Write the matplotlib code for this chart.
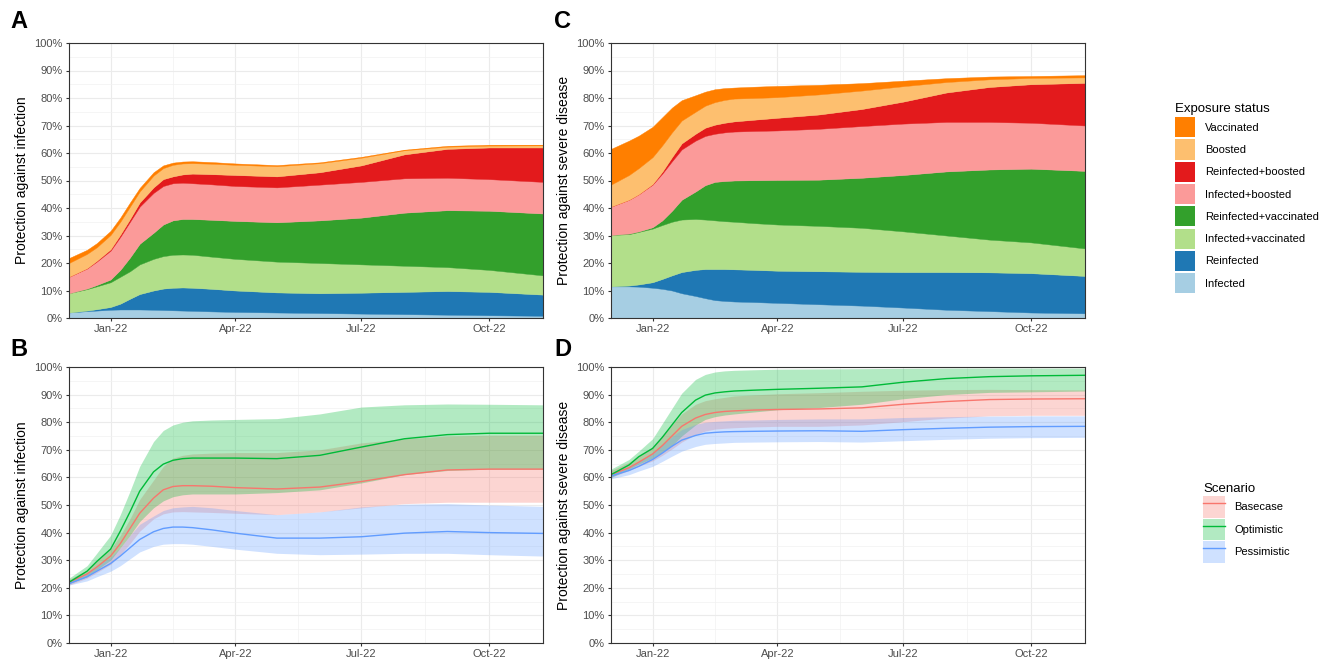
import numpy as np
import pandas as pd
import matplotlib
matplotlib.use('Agg')
import matplotlib.pyplot as plt
import matplotlib.dates as mdates
from matplotlib.patches import Patch
from matplotlib.lines import Line2D
from matplotlib.ticker import MultipleLocator, FixedLocator, FuncFormatter

plt.rcParams['font.family'] = ['Liberation Sans', 'DejaVu Sans']

# time points
dates = pd.to_datetime(['2021-12-02', '2021-12-15', '2021-12-22', '2022-01-01',
                        '2022-01-08', '2022-01-15', '2022-01-22', '2022-02-01',
                        '2022-02-08', '2022-02-15', '2022-02-22', '2022-03-01',
                        '2022-03-15', '2022-04-01', '2022-05-01', '2022-06-01',
                        '2022-07-01', '2022-08-01', '2022-09-01', '2022-10-01',
                        '2022-11-09'])

exposure = ['Infected', 'Reinfected', 'Infected+vaccinated', 'Reinfected+vaccinated',
            'Infected+boosted', 'Reinfected+boosted', 'Boosted', 'Vaccinated']
exposure_colors = ['#A6CEE3', '#1F78B4', '#B2DF8A', '#33A02C',
                   '#FB9A99', '#E31A1C', '#FDBF6F', '#FF7F00']

# A: protection against infection, contribution of each exposure status (%)
a_infected = [2, 2.5, 2.7, 3, 3.1, 3.1, 3.1, 3, 2.9, 2.8, 2.7, 2.6, 2.4, 2.2, 2, 1.8,
              1.6, 1.4, 1.2, 1, 0.8]
a_reinfected = [0, 0.2, 0.5, 1, 2.1, 3.9, 5.6, 7, 7.8, 8.2, 8.4, 8.4, 8.2, 7.8, 7.3,
                7.2, 7.6, 8.1, 8.6, 8.5, 7.7]
a_inf_vacc = [7, 7.8, 8.3, 9, 9.8, 10, 10.8, 11.5, 11.8, 12, 12, 12, 11.7, 11.5, 11.2,
              11, 10.3, 9.5, 8.7, 8, 7]
a_reinf_vacc = [0, 0.2, 0.5, 1, 2.5, 5, 7.5, 9.5, 11.5, 12.5, 12.9, 13, 13.4, 13.8,
                14.3, 15.5, 17, 19.3, 20.7, 21.5, 22.5]
a_inf_boost = [6, 7.3, 8.5, 10.5, 12, 13, 13.5, 14.5, 14, 13.5, 13.2, 13, 12.9, 12.7,
               12.7, 13, 13, 12.5, 11.8, 11.5, 11.5]
a_reinf_boost = [0, 0.1, 0.3, 0.5, 0.8, 1, 1.5, 2, 2.5, 2.5, 3, 3.5, 3.7, 4, 4, 4.5,
                 6, 8.7, 10.5, 11.5, 12.5]
a_boosted = [5, 5.2, 4.9, 5.2, 4.7, 4.5, 4, 4.3, 4, 4.2, 4, 3.8, 3.8, 3.7, 3.7, 3.3,
             2.8, 1.5, 0.8, 0.7, 0.8]
a_vaccinated = [1.8, 1.5, 1.5, 1.5, 1.5, 1.5, 1.3, 1.2, 1, 0.8, 0.7, 0.7, 0.6, 0.5,
                0.4, 0.3, 0.3, 0.2, 0.3, 0.3, 0.2]

# C: protection against severe disease, contribution of each exposure status (%)
c_infected = [11.5, 11.5, 11.4, 11, 10.6, 10, 9, 8, 7.2, 6.5, 6.2, 6, 5.8, 5.5, 5,
              4.5, 3.8, 3, 2.5, 2, 1.7]
c_reinfected = [0, 0.3, 0.8, 2, 3.6, 5.5, 7.7, 9.5, 10.6, 11.3, 11.6, 11.7, 11.7, 11.7,
                12, 12.3, 12.9, 13.7, 14.1, 14.3, 13.6]
c_inf_vacc = [18.7, 18.7, 19.1, 19.5, 19.6, 19.5, 19.1, 18.5, 18, 17.7, 17.4, 17.3, 17,
              16.8, 16.5, 16, 14.8, 13.3, 11.9, 11.2, 10]
c_reinf_vacc = [0, 0.2, 0.2, 0.5, 1.7, 4, 7.2, 10, 12.5, 14, 14.6, 15, 15.6, 16.2,
                16.8, 18.2, 20.5, 23.3, 25.5, 26.8, 28.2]
c_inf_boost = [10.3, 12.3, 13.5, 15.5, 17, 18, 18.3, 18.5, 17.9, 17.5, 17.7, 17.8,
               17.9, 18, 18.5, 18.8, 18.7, 18, 17.3, 16.7, 16.5]
c_reinf_boost = [0, 0, 0, 0.2, 0.7, 1.5, 2.2, 2.5, 3, 3.3, 3.5, 3.7, 4.1, 4.6, 5.2,
                 6.2, 8, 10.7, 12.7, 14, 15.5]
c_boosted = [8, 9, 9.5, 9.8, 9.6, 9, 8.3, 8, 8, 8.2, 8.3, 8.3, 7.9, 7.5, 7.3, 6.7,
             5.6, 3.8, 2.8, 2.3, 2]
c_vaccinated = [13, 12.5, 11.8, 11, 10.2, 9, 7.4, 6, 5.1, 4.7, 4.3, 4, 4.1, 4.1, 3.5,
                2.7, 2, 1.4, 1, 0.7, 0.8]

scenarios = ['Basecase', 'Optimistic', 'Pessimistic']
scenario_colors = ['#F8766D', '#00BA38', '#619CFF']

# B: protection against infection by scenario (%), median and interval
b_base = [22, 25, 27.5, 31.5, 36, 41.5, 47, 52.5, 55.5, 56.7, 57, 57, 56.8, 56.3,
          55.8, 56.5, 58.5, 61, 62.7, 63, 63]
b_base_lo = [21, 23.5, 25.5, 28.5, 32, 36, 40.5, 45, 46.8, 47.5, 47.6, 47.5, 47.3,
             47, 46.5, 47.5, 49, 50.5, 51, 51, 51]
b_base_hi = [23, 26.5, 29.5, 34, 39, 45, 52, 59, 64, 67, 68, 68.5, 68.8, 69, 69, 70,
             72.5, 74, 75, 75.3, 75.3]
b_opt = [22, 26, 29.5, 34, 40.5, 47.5, 55, 62, 64.8, 66.2, 66.8, 67, 67, 67, 66.8, 68,
         71, 74, 75.5, 76, 76]
b_opt_lo = [21.5, 24, 26.5, 30, 34.5, 39, 44, 49, 51.5, 53, 53.7, 54, 54, 54, 54.5,
            55.5, 58, 61, 62.5, 63, 63]
b_opt_hi = [23.5, 28, 32.5, 39, 46.5, 55, 64, 73, 77, 79, 80, 80.5, 80.8, 81, 81.3,
            83, 85.5, 86.3, 86.6, 86.5, 86.3]
b_pess = [21.5, 24, 26, 28.8, 31.5, 34.5, 37.5, 40.3, 41.5, 42, 42, 41.8, 41, 39.8,
          38, 38, 38.5, 39.8, 40.4, 40, 39.7]
b_pess_lo = [21, 22.5, 24, 26, 28, 30.5, 33, 35, 35.8, 36, 36, 35.8, 35, 34, 32.5,
             32, 32.2, 32.5, 32.5, 32, 31.5]
b_pess_hi = [22.5, 25.5, 28, 31, 34.5, 39, 43, 46, 48, 49, 49.3, 49.5, 49, 48, 46.5,
             47.5, 49.3, 50.3, 50.5, 50, 49.5]

# D: protection against severe disease by scenario (%), median and interval
d_base = [61, 63.5, 65.5, 68.5, 71.5, 75, 78.5, 81.5, 82.8, 83.5, 83.9, 84.1, 84.4,
          84.6, 84.8, 85.2, 86.5, 87.5, 88.2, 88.4, 88.5]
d_base_lo = [60, 62.5, 64, 66, 68, 70.3, 72.8, 75.5, 76.8, 77.5, 77.8, 78, 78.3, 78.5,
             78.5, 79, 80.2, 81.5, 82.3, 82.5, 82.5]
d_base_hi = [62.5, 65.5, 67.8, 71, 75, 79, 83, 86.5, 87.8, 88.5, 89, 89.5, 89.9, 90.3,
             90.7, 91.2, 91.6, 91.8, 91.9, 91.8, 91.7]
d_opt = [61, 64.5, 67.5, 70.5, 74.5, 79, 83.5, 88, 89.8, 90.6, 91, 91.3, 91.6, 91.9,
         92.3, 92.8, 94.5, 95.8, 96.5, 96.8, 97]
d_opt_lo = [60, 63, 64.8, 67, 69.2, 71.5, 75, 79, 81, 82, 82.6, 83, 83.7, 84.5, 85.3,
            86.5, 88.5, 90, 90.8, 91, 91.3]
d_opt_hi = [63, 66.5, 69.5, 74, 79.5, 85, 90.5, 95.5, 97.3, 98.2, 98.6, 98.8, 99, 99.2,
            99.3, 99.4, 99.5, 99.6, 99.6, 99.6, 99.6]
d_pess = [60.5, 62.5, 64, 66.5, 68.8, 71.3, 73.5, 75.2, 76, 76.3, 76.5, 76.6, 76.7,
          76.8, 76.9, 76.7, 77.3, 77.8, 78.2, 78.4, 78.5]
d_pess_lo = [59.5, 61, 62.3, 64, 65.8, 67.7, 69.5, 71.2, 72, 72.3, 72.5, 72.7, 72.8,
             72.9, 73, 72.8, 73.3, 73.8, 74.2, 74.4, 74.5]
d_pess_hi = [61.5, 64, 65.8, 69, 71.8, 74.8, 77.3, 79.2, 80, 80.3, 80.5, 80.7, 80.8,
             81, 81.2, 81.2, 81.7, 82, 82.2, 82.3, 82.3]

W, H = 1333, 663
fig = plt.figure(figsize=(W / 100, H / 100), dpi=100)


def px_axes(left, top, right, bottom):
    return fig.add_axes([left / W, 1 - bottom / H, (right - left) / W, (bottom - top) / H])


def style(ax, ylabel):
    ax.set_xlim(dates[0], dates[-1])
    ax.set_ylim(0, 100)
    ax.xaxis.set_major_locator(mdates.MonthLocator(bymonth=[1, 4, 7, 10]))
    ax.xaxis.set_major_formatter(mdates.DateFormatter('%b-%y'))
    ax.xaxis.set_minor_locator(FixedLocator(mdates.date2num(
        pd.to_datetime(['2022-02-15', '2022-05-16', '2022-08-16']))))
    ax.yaxis.set_major_locator(MultipleLocator(10))
    ax.yaxis.set_minor_locator(MultipleLocator(5))
    ax.yaxis.set_major_formatter(FuncFormatter(lambda v, p: '%d%%' % v))
    ax.grid(which='major', color='#EBEBEB', lw=0.8)
    ax.grid(which='minor', color='#F2F2F2', lw=0.5)
    ax.set_axisbelow(True)
    ax.tick_params(which='major', length=2.5, width=0.8, color='#333333',
                   labelsize=8, labelcolor='#4D4D4D', pad=2)
    ax.tick_params(which='minor', length=0)
    for s in ax.spines.values():
        s.set_color('#333333')
        s.set_linewidth(0.8)
    ax.set_ylabel(ylabel, fontsize=10, labelpad=4)


def stacked(ax, layers):
    base = np.zeros(len(dates))
    for vals, col in zip(layers, exposure_colors):
        top = base + np.array(vals)
        ax.fill_between(dates, base, top, color=col, lw=0.3, ec=col)
        base = top


def ribbons(ax, series):
    for (mid, lo, hi), col in zip(series, scenario_colors):
        ax.fill_between(dates, lo, hi, color=col, alpha=0.3, lw=0)
    for (mid, lo, hi), col in zip(series, scenario_colors):
        ax.plot(dates, mid, color=col, lw=1.0)


ax_a = px_axes(69, 43, 543, 318)
stacked(ax_a, [a_infected, a_reinfected, a_inf_vacc, a_reinf_vacc,
               a_inf_boost, a_reinf_boost, a_boosted, a_vaccinated])
style(ax_a, 'Protection against infection')

ax_c = px_axes(611, 43, 1085, 318)
stacked(ax_c, [c_infected, c_reinfected, c_inf_vacc, c_reinf_vacc,
               c_inf_boost, c_reinf_boost, c_boosted, c_vaccinated])
style(ax_c, 'Protection against severe disease')

ax_b = px_axes(69, 367, 543, 643)
ribbons(ax_b, [(b_base, b_base_lo, b_base_hi), (b_opt, b_opt_lo, b_opt_hi),
               (b_pess, b_pess_lo, b_pess_hi)])
style(ax_b, 'Protection against infection')

ax_d = px_axes(611, 367, 1085, 643)
ribbons(ax_d, [(d_base, d_base_lo, d_base_hi), (d_opt, d_opt_lo, d_opt_hi),
               (d_pess, d_pess_lo, d_pess_hi)])
style(ax_d, 'Protection against severe disease')

# panel letters
for letter, x, y in [('A', 10, 21), ('B', 10, 350), ('C', 554, 21), ('D', 554, 350)]:
    fig.text(x / W, 1 - y / H, letter, fontsize=17, fontweight='bold', ha='left', va='center')

# legends
exp_handles = [Patch(fc=c, ec='none') for c in exposure_colors][::-1]
fig.legend(exp_handles, exposure[::-1], loc='upper left',
           bbox_to_anchor=(1175 / W, 1 - 103 / H), title='Exposure status',
           frameon=False, fontsize=8, title_fontsize=9.5, handlelength=1.8,
           handleheight=2.4, labelspacing=0.2, handletextpad=0.9,
           borderaxespad=0, borderpad=0, alignment='left')

sc_handles = [(Patch(fc=c, alpha=0.3, ec='none'), Line2D([], [], color=c, lw=1.0))
              for c in scenario_colors]
fig.legend(sc_handles, scenarios, loc='upper left',
           bbox_to_anchor=(1203 / W, 1 - 483 / H), title='Scenario',
           frameon=False, fontsize=8, title_fontsize=9.5, handlelength=2.0,
           handleheight=2.6, labelspacing=0.1, handletextpad=0.8,
           borderaxespad=0, borderpad=0, alignment='left')

fig.savefig('out.png', dpi=100)
